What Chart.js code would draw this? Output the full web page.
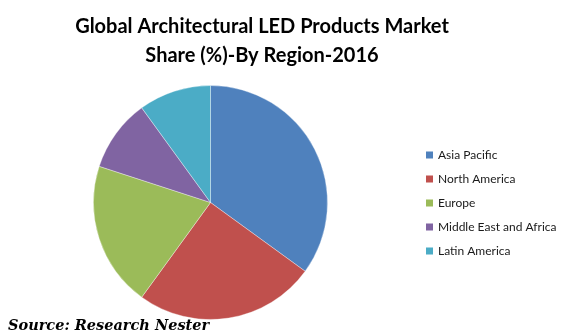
<!DOCTYPE html>
<html>
<head>
<meta charset="utf-8">
<script src="https://cdn.jsdelivr.net/npm/chart.js@4/dist/chart.umd.min.js"></script>
<style>
  html, body { margin: 0; padding: 0; background: #ffffff; }
  #wrap { width: 576px; height: 336px; position: relative; }
</style>
</head>
<body>
<div id="wrap"><canvas id="c" width="576" height="336"></canvas></div>
<script>
const titleLines = ["Global Architectural LED Products Market", "Share (%)-By Region-2016"];
const categories = ["Asia Pacific", "North America", "Europe", "Middle East and Africa", "Latin America"];
const shares = [35, 25, 20, 10, 10];
const colors = ["#4F81BD", "#C0504D", "#9BBB59", "#8064A2", "#4BACC6"];
const sourceText = "Source: Research Nester";

const overlay = {
  id: 'overlay',
  afterDraw(chart) {
    const ctx = chart.ctx;
    ctx.save();
    // Title
    ctx.fillStyle = '#000000';
    ctx.textAlign = 'center';
    ctx.textBaseline = 'alphabetic';
    ctx.font = 'bold 20px Lato';
    ctx.fillText(titleLines[0], 262, 33);
    ctx.fillText(titleLines[1], 262, 62);
    // Legend
    const rowY = [155, 179, 203, 227, 251];
    ctx.textAlign = 'left';
    ctx.textBaseline = 'middle';
    ctx.font = '12px Lato';
    const ds = chart.data.datasets[0];
    chart.data.labels.forEach((lab, i) => {
      ctx.fillStyle = ds.backgroundColor[i];
      ctx.fillRect(426, rowY[i] - 3.5, 7, 7);
      ctx.fillStyle = '#1a1a1a';
      ctx.fillText(lab, 438, rowY[i] + 0.5);
    });
    // Source
    ctx.fillStyle = '#000000';
    ctx.textBaseline = 'alphabetic';
    ctx.font = 'italic bold 14.5px "DejaVu Serif"';
    ctx.fillText(sourceText, 8, 330);
    ctx.restore();
  }
};

new Chart(document.getElementById('c'), {
  type: 'pie',
  data: {
    labels: categories,
    datasets: [{
      data: shares,
      backgroundColor: colors,
      borderColor: 'rgba(255,255,255,0.35)',
      borderWidth: 1
    }]
  },
  options: {
    responsive: false,
    animation: false,
    layout: { padding: { left: 93, right: 248, top: 85, bottom: 16 } },
    plugins: {
      legend: { display: false },
      title: { display: false },
      tooltip: { enabled: false }
    }
  },
  plugins: [overlay]
});
</script>
</body>
</html>
